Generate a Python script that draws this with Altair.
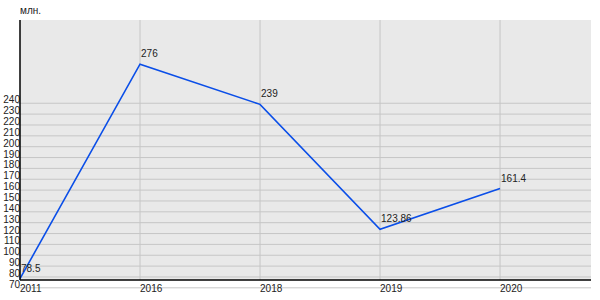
import altair as alt
import pandas as pd

years = ["2011", "2016", "2018", "2019", "2020"]
values = [78.5, 276, 239, 123.86, 161.4]
value_labels = ["78.5", "276", "239", "123.86", "161.4"]
y_ticks = [70, 80, 90, 100, 110, 120, 130, 140, 150, 160, 170, 180, 190, 200, 210, 220, 230, 240]
unit = "млн."

W, H = 571, 260
FONT = "Liberation Sans"

df = pd.DataFrame({"idx": list(range(len(years))), "year": years, "value": values, "lab": value_labels})
tdf = pd.DataFrame({"value": y_ticks, "lab": [str(t) for t in y_ticks]})
vdf = df[df["idx"] > 0]

xs = alt.Scale(domain=[0, 4.758], nice=False, zero=False)
ys = alt.Scale(domain=[77.2, 316.7], nice=False, zero=False)
X = lambda: alt.X("idx:Q", scale=xs, axis=None)
Y = lambda: alt.Y("value:Q", scale=ys, axis=None)

hgrid = alt.Chart(tdf).mark_rule(color="#c6c6c6", strokeWidth=1).encode(
    y=Y(), x=alt.value(-3), x2=alt.value(W))
vgrid = alt.Chart(vdf).mark_rule(color="#c6c6c6", strokeWidth=1).encode(
    x=X(), y=alt.value(0), y2=alt.value(H))
left_axis = alt.Chart(df.head(1)).mark_rule(color="black", strokeWidth=1.5).encode(
    x=alt.value(0), y=alt.value(0), y2=alt.value(H))
bottom_axis = alt.Chart(df.head(1)).mark_rule(color="black", strokeWidth=1.5).encode(
    x=alt.value(0), x2=alt.value(W), y=alt.value(H))
ylabels = alt.Chart(tdf).mark_text(align="right", baseline="alphabetic", font=FONT, fontSize=10,
                                    color="#222222").encode(
    y=Y(), x=alt.value(0), text="lab:N")
xlabels = alt.Chart(df).mark_text(align="left", baseline="alphabetic", font=FONT, fontSize=10,
                                   color="#222222").encode(
    x=X(), y=alt.value(H + 12), text="year:N")
line = alt.Chart(df).mark_line(color="#0a4ee8", strokeWidth=1.6).encode(x=X(), y=Y())
plabels = alt.Chart(df).mark_text(align="left", baseline="alphabetic", dx=1, dy=-7, font=FONT,
                                   fontSize=10, color="#222222").encode(
    x=X(), y=Y(), text="lab:N")
title = alt.Chart(df.head(1)).mark_text(align="left", baseline="alphabetic", font=FONT, fontSize=10,
                                         color="#222222").encode(
    x=alt.value(0), y=alt.value(-6), text=alt.value(unit))

chart = alt.layer(hgrid, vgrid, line, plabels, ylabels, xlabels, left_axis, bottom_axis, title).properties(
    width=W, height=H,
    autosize=alt.AutoSizeParams(type="none"),
    padding={"left": 20, "top": 20, "right": 9, "bottom": 20},
    background="white",
).configure_view(fill="#e9e9e9", stroke=None)

chart.save("out.html", embed_options={"renderer": "svg", "actions": False})
